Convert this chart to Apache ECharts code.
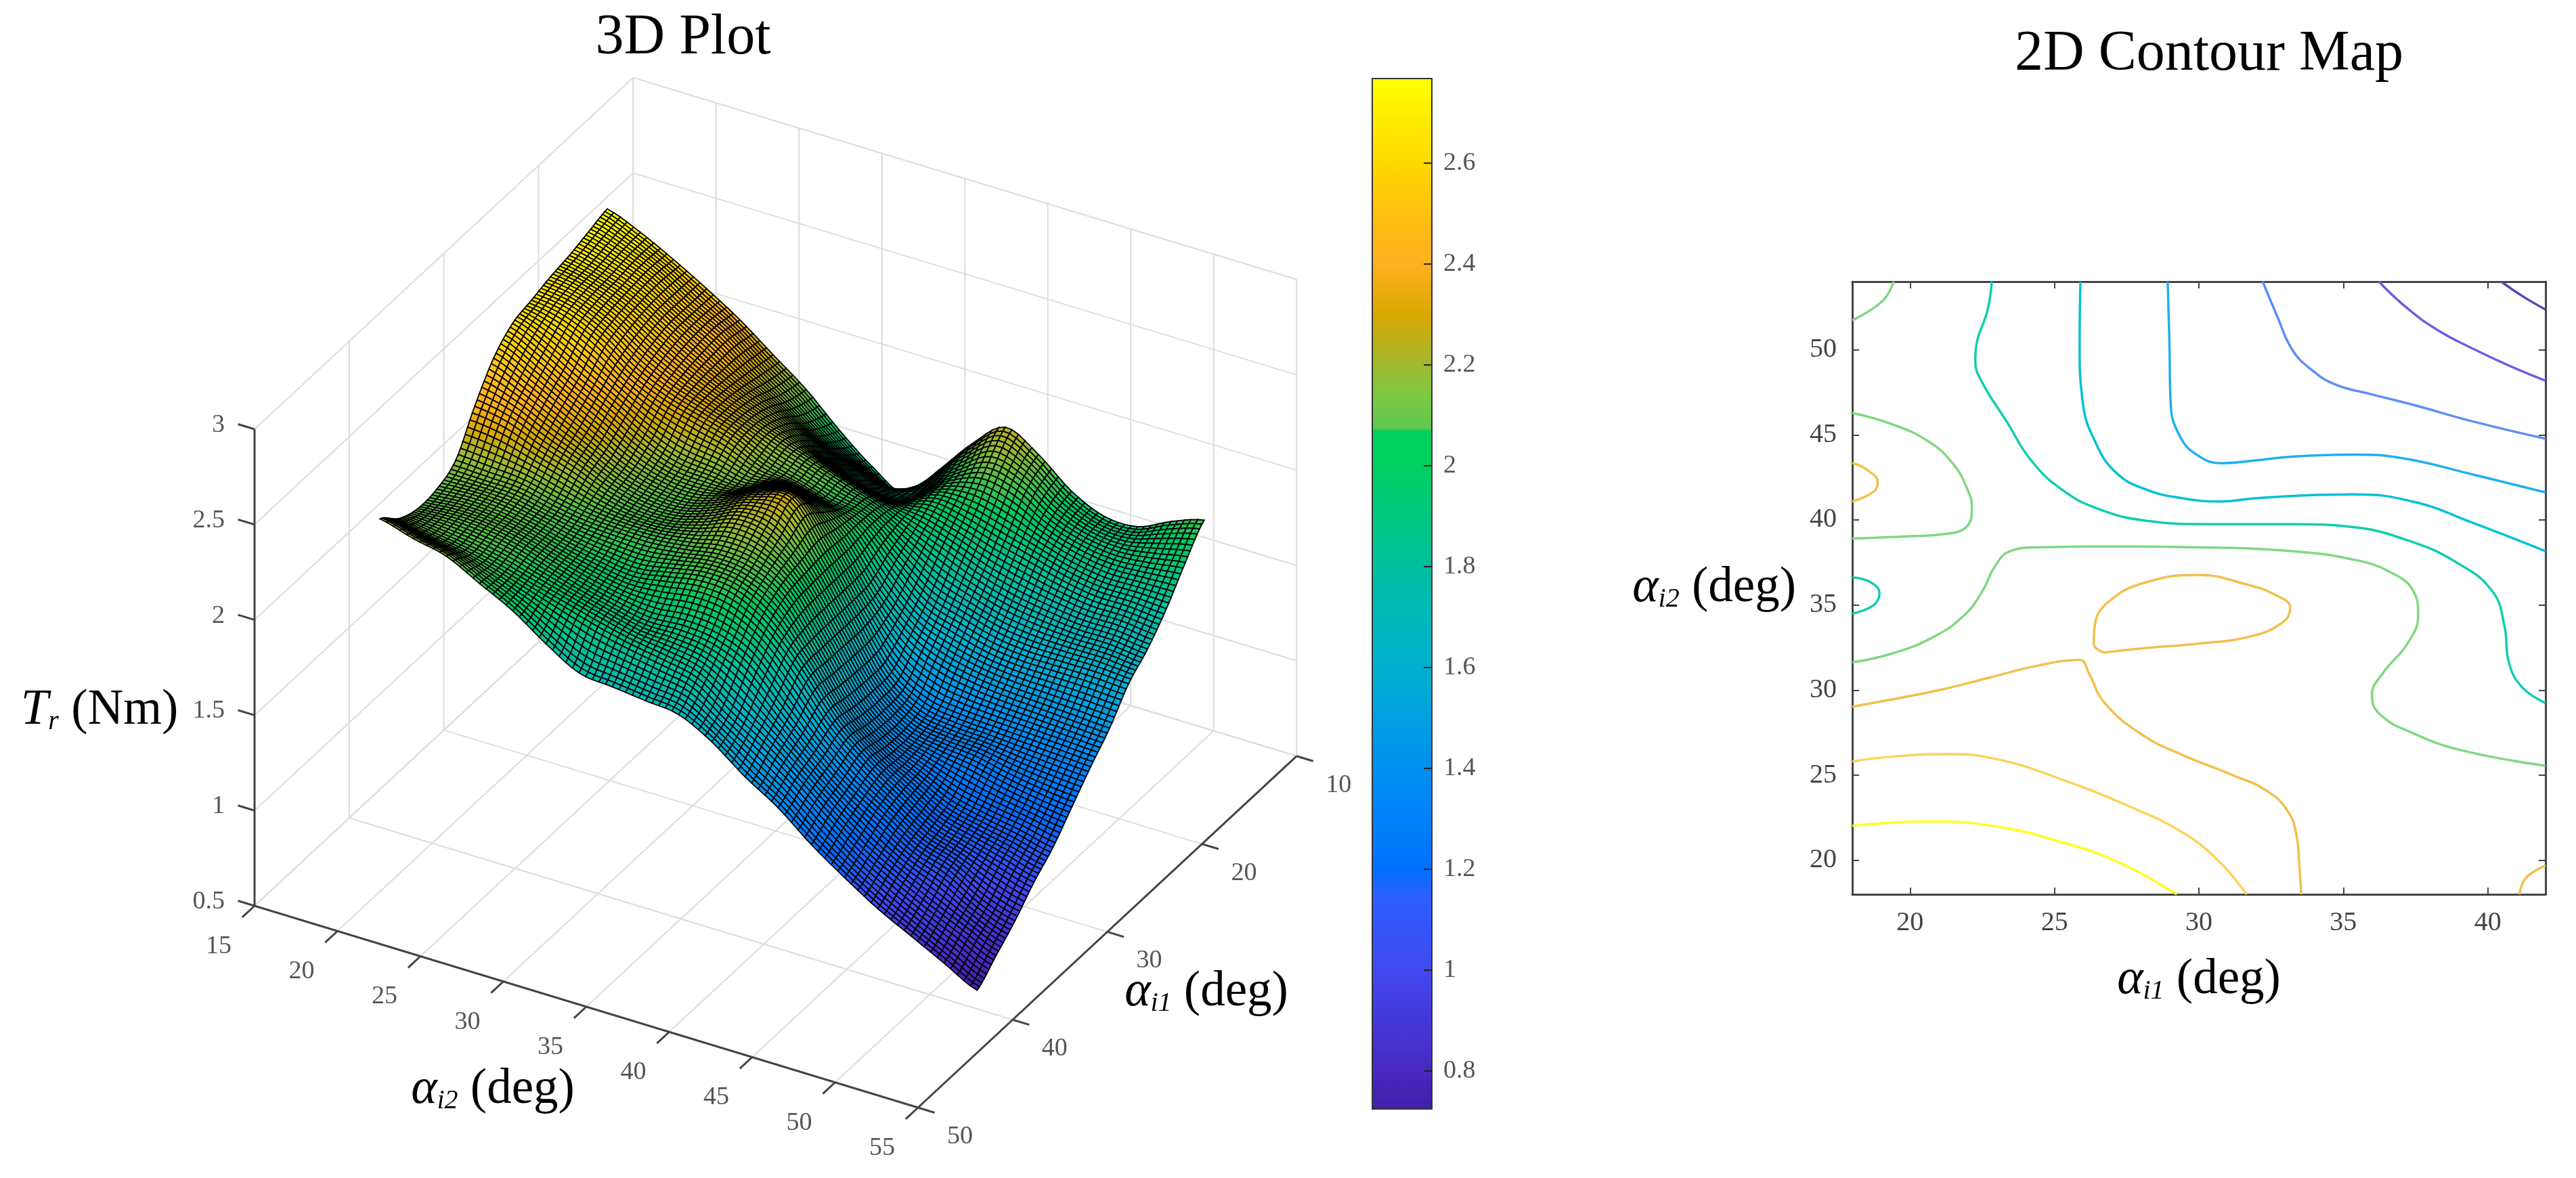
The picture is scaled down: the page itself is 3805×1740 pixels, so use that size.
<!DOCTYPE html>
<html>
<head>
<meta charset="utf-8">
<title>3D Plot and 2D Contour Map</title>
<script src="https://cdn.jsdelivr.net/npm/echarts@6/dist/echarts.min.js"></script>
<style>
html, body { margin: 0; padding: 0; background: #fff; }
#chart { width: 3805px; height: 1740px; }
</style>
</head>
<body>
<div id="chart"></div>
<script>
// surface values, Tr (Nm), one row per ai2 and one column per ai1
var surfaceI1 = [18, 20, 22, 24, 26, 28, 30, 32, 34, 36, 38, 40, 42];
var surfaceI2 = [18, 20, 22, 24, 26, 28, 30, 32, 34, 36, 38, 40, 42, 44, 46, 48, 50, 52, 54];
var surfaceZ = [
	[2.76, 2.73, 2.70, 2.68, 2.65, 2.62, 2.53, 2.37, 2.18, 2.12, 2.11, 2.15, 2.24],
	[2.69, 2.68, 2.66, 2.65, 2.62, 2.54, 2.45, 2.34, 2.17, 2.13, 2.12, 2.12, 2.19],
	[2.60, 2.61, 2.60, 2.58, 2.54, 2.44, 2.36, 2.27, 2.16, 2.12, 2.11, 2.09, 2.15],
	[2.50, 2.50, 2.50, 2.47, 2.42, 2.35, 2.27, 2.21, 2.12, 2.09, 2.08, 2.05, 2.06],
	[2.39, 2.41, 2.40, 2.38, 2.34, 2.25, 2.18, 2.14, 2.09, 2.05, 2.03, 2.00, 1.97],
	[2.26, 2.28, 2.30, 2.31, 2.29, 2.18, 2.13, 2.10, 2.08, 2.02, 1.98, 1.95, 1.85],
	[2.13, 2.16, 2.22, 2.25, 2.24, 2.16, 2.12, 2.10, 2.08, 2.00, 1.94, 1.90, 1.75],
	[1.97, 2.03, 2.13, 2.19, 2.16, 2.14, 2.17, 2.15, 2.10, 2.03, 1.91, 1.86, 1.73],
	[1.83, 1.93, 2.03, 2.13, 2.12, 2.20, 2.25, 2.22, 2.13, 2.06, 1.92, 1.83, 1.71],
	[1.74, 1.87, 1.95, 2.07, 2.07, 2.17, 2.27, 2.19, 2.11, 2.04, 1.90, 1.79, 1.69],
	[1.92, 1.92, 1.94, 2.01, 2.03, 2.03, 2.04, 2.03, 2.01, 1.94, 1.82, 1.67, 1.60],
	[2.11, 2.04, 2.01, 1.94, 1.87, 1.79, 1.77, 1.77, 1.77, 1.76, 1.65, 1.56, 1.47],
	[2.25, 2.13, 1.99, 1.87, 1.73, 1.62, 1.52, 1.51, 1.52, 1.54, 1.48, 1.43, 1.36],
	[2.16, 2.09, 1.94, 1.80, 1.67, 1.54, 1.41, 1.37, 1.37, 1.39, 1.34, 1.29, 1.22],
	[2.02, 1.98, 1.89, 1.75, 1.62, 1.50, 1.38, 1.33, 1.29, 1.27, 1.23, 1.16, 1.10],
	[1.94, 1.92, 1.84, 1.72, 1.60, 1.48, 1.37, 1.31, 1.21, 1.16, 1.12, 1.06, 0.99],
	[1.94, 1.90, 1.81, 1.70, 1.60, 1.47, 1.36, 1.27, 1.17, 1.11, 1.06, 0.97, 0.90],
	[2.02, 1.92, 1.81, 1.70, 1.60, 1.46, 1.35, 1.24, 1.14, 1.06, 0.96, 0.89, 0.81],
	[2.08, 1.95, 1.80, 1.68, 1.59, 1.45, 1.34, 1.22, 1.10, 1.01, 0.90, 0.81, 0.72]
];

// tick labels
var ticksZ = [0.5, 1, 1.5, 2, 2.5, 3];
var ticksI2 = [15, 20, 25, 30, 35, 40, 45, 50, 55];
var ticksI1 = [10, 20, 30, 40, 50];
var ticksBar = [0.8, 1, 1.2, 1.4, 1.6, 1.8, 2, 2.2, 2.4, 2.6];
var ticksMapX = [20, 25, 30, 35, 40];
var ticksMapY = [20, 25, 30, 35, 40, 45, 50];

// colour bar, value and colour side by side
var barValues = [0.725, 0.8, 1.0, 1.15, 1.2, 1.4, 1.6, 1.8, 2.0, 2.07, 2.075, 2.15, 2.2, 2.3, 2.4, 2.5, 2.6, 2.768];
var barColors = ['#4020a8', '#4828c0', '#4048f0', '#2c60ff', '#0070ff', '#0090f0', '#00b0d0', '#00bfa0', '#00d060', '#00d060', '#60c850', '#80c840', '#a0b830', '#d8a800', '#ffb020', '#ffc010', '#ffd800', '#ffff00'];

// the surface does not show the jump the bar has near 2.07
var shadeValues = [0.725, 0.8, 1.0, 1.2, 1.4, 1.6, 1.8, 2.0, 2.2, 2.3, 2.4, 2.6, 2.768];
var shadeColors = ['#4020a8', '#4828c0', '#4048f0', '#0070ff', '#0090f0', '#00b0d0', '#00bfa0', '#00c860', '#a0b830', '#d8a800', '#ffb020', '#ffd800', '#ffff00'];

// contour lines, [ai1, ai2]
var lineA = [[40.47, 54], [41.2, 53.15], [42, 52.36]];
var lineB = [[36.23, 54], [37.21, 52.44], [38.26, 51.16], [39.52, 50.03], [40.78, 49.03], [42, 48.18]];
var lineC = [[32.21, 54], [32.7, 52.01], [33.22, 50.03], [33.85, 48.89], [34.69, 47.98], [35.95, 47.39], [37.42, 46.76], [39.52, 45.77], [42, 44.77]];
var lineD = [[28.92, 54], [28.98, 50.31], [29.02, 46.9], [29.34, 44.92], [29.97, 43.78], [30.81, 43.33], [31.96, 43.5], [33.22, 43.72], [35.32, 43.84], [37, 43.64], [39.52, 42.65], [42, 41.62]];
var lineE = [[25.9, 54], [25.87, 50.31], [25.98, 46.9], [26.4, 44.63], [27.13, 42.78], [28.18, 41.78], [29.44, 41.27], [30.7, 41.08], [31.96, 41.27], [33.64, 41.44], [35.32, 41.5], [37.42, 41.07], [39.52, 39.8], [42, 38.16]];
var lineF = [[22.83, 54], [22.68, 52.3], [22.3, 50.31], [22.26, 49.32], [22.51, 48.04], [23.35, 45.77], [24.19, 43.5], [25.24, 41.8], [26.5, 40.66], [28.18, 39.95], [30.28, 39.75], [33.22, 39.75], [35.32, 39.58], [37.21, 38.81], [38.89, 37.53], [40.15, 35.83], [40.57, 33.84], [40.74, 31.57], [41.2, 30.15], [42, 29.24]];
var lineF2 = [[18, 36.63], [18.63, 36.34], [18.94, 35.69], [18.73, 34.98], [18, 34.5]];
var lineG1 = [[19.43, 54], [19.05, 52.87], [18, 51.73]];
var lineG2 = [[18, 46.28], [19.36, 45.63], [20.62, 44.63], [21.46, 43.35], [21.99, 41.79], [22.14, 40.66], [21.99, 39.66], [21.25, 39.18], [19.99, 39.04], [18, 38.9]];
var lineG3 = [[18, 31.63], [19.36, 32.14], [20.83, 33.14], [21.88, 34.41], [22.51, 35.83], [22.93, 37.25], [23.46, 38.16], [24.4, 38.39], [26.92, 38.44], [30.07, 38.39], [33.22, 38.16], [35.32, 37.68], [36.58, 36.97], [37.42, 35.83], [37.59, 34.41], [37.21, 32.71], [36.37, 31], [35.99, 29.73], [36.26, 28.59], [37.42, 27.46], [39.1, 26.46], [42, 25.55]];
var lineH1 = [[18, 43.35], [18.52, 42.93], [18.88, 42.22], [18.73, 41.65], [18, 41.08]];
var lineH2 = [[26.71, 32.2], [26.36, 32.71], [26.4, 33.84], [26.92, 35.26], [28.18, 36.34], [29.97, 36.77], [31.54, 36.26], [32.7, 35.55], [33.16, 34.84], [32.91, 33.99], [31.75, 33.14], [29.86, 32.71], [28.18, 32.48], [26.71, 32.2]];
var lineH3 = [[18, 29.02], [19.36, 29.45], [21.04, 30.01], [22.72, 30.72], [24.4, 31.43], [25.87, 31.77], [26.19, 31], [26.71, 29.3], [27.97, 27.45], [29.44, 26.18], [31.12, 25.04], [32.38, 24.05], [33.12, 22.77], [33.39, 21.35], [33.47, 19.93], [33.54, 18]];
var lineH4 = [[41.1, 18], [41.31, 18.94], [42, 19.7]];
var lineI = [[18, 25.81], [19.57, 26.12], [21.46, 26.23], [23.14, 25.89], [25.24, 24.76], [27.55, 23.2], [29.44, 21.63], [30.7, 19.93], [31.65, 18]];
var lineJ = [[18, 22.03], [20.62, 22.29], [22.72, 22.06], [25.24, 21.07], [27.34, 19.79], [29.23, 18]];

var serif = 'Liberation Serif';
var gridColor = '#dcdcdc';
var axisColor = '#444';
var tickColor = '#555';

// oblique view of the 3D box, worked out from its corners in the picture
function project(i2, i1, z) {
	return [
		376 + (i2 - 15) * 24.5 + (50 - i1) * 13.98,
		1338 + (i2 - 15) * 7.45 - (50 - i1) * 12.98 - (z - 0.5) * 281.6
	];
}

function hexRgb(h) {
	return [parseInt(h.substr(1, 2), 16), parseInt(h.substr(3, 2), 16), parseInt(h.substr(5, 2), 16)];
}

// colour of a height on the surface
function colorAt(z) {
	var n = shadeValues.length, k = 0;
	if (z <= shadeValues[0]) return shadeColors[0];
	if (z >= shadeValues[n - 1]) return shadeColors[n - 1];
	while (shadeValues[k + 1] < z) k++;
	var t = (z - shadeValues[k]) / (shadeValues[k + 1] - shadeValues[k]);
	var a = hexRgb(shadeColors[k]), b = hexRgb(shadeColors[k + 1]);
	return 'rgb(' + Math.round(a[0] + (b[0] - a[0]) * t) + ',' + Math.round(a[1] + (b[1] - a[1]) * t) + ',' + Math.round(a[2] + (b[2] - a[2]) * t) + ')';
}

// one item per cell between the read values, back of the box first
var surfaceCells = [];
for (var r = 0; r < surfaceI2.length - 1; r++) {
	for (var c = 0; c < surfaceI1.length - 1; c++) {
		surfaceCells.push([r, c]);
	}
}

// each cell is shaded as a fine black wire mesh, like the original surf plot
var MESH_I2 = 5, MESH_I1 = 8;

function cubicWeights(t) {
	return [
		(-t * t * t + 2 * t * t - t) / 2,
		(3 * t * t * t - 5 * t * t + 2) / 2,
		(-3 * t * t * t + 4 * t * t + t) / 2,
		(t * t * t - t * t) / 2
	];
}

// curved patch through the read values, drawing only, nothing is stored
function patchZ(r, c, s, t) {
	var ws = cubicWeights(s), wt = cubicWeights(t), z = 0;
	for (var m = 0; m < 4; m++) {
		var rr = Math.min(surfaceI2.length - 1, Math.max(0, r + m - 1));
		for (var n = 0; n < 4; n++) {
			var cc = Math.min(surfaceI1.length - 1, Math.max(0, c + n - 1));
			z += ws[m] * wt[n] * surfaceZ[rr][cc];
		}
	}
	return z;
}

function renderCell(params, api) {
	var r = api.value(0), c = api.value(1);
	var i2a = surfaceI2[r], i2b = surfaceI2[r + 1], i1a = surfaceI1[c], i1b = surfaceI1[c + 1];
	function corner(u, v) {
		var s = u / MESH_I2, t = v / MESH_I1;
		var z = patchZ(r, c, s, t);
		return { z: z, p: api.coord(project(i2a + (i2b - i2a) * s, i1a + (i1b - i1a) * t, z)) };
	}
	var children = [];
	for (var v = 0; v < MESH_I1; v++) {
		for (var u = 0; u < MESH_I2; u++) {
			var a = corner(u, v), b = corner(u + 1, v), d = corner(u + 1, v + 1), e = corner(u, v + 1);
			children.push({
				type: 'polygon',
				shape: { points: [a.p, b.p, d.p, e.p] },
				style: { fill: colorAt((a.z + b.z + d.z + e.z) / 4), stroke: '#000', lineWidth: 1.8 }
			});
		}
	}
	return { type: 'group', children: children };
}

// box lines: [i2 from, i1 from, z from, i2 to, i1 to, z to]
var wallSegments = [];
ticksZ.forEach(function (z) {
	wallSegments.push([15, 50, z, 15, 10, z]);
	wallSegments.push([15, 10, z, 55, 10, z]);
});
ticksI2.forEach(function (i2) {
	wallSegments.push([i2, 50, 0.5, i2, 10, 0.5]);
	wallSegments.push([i2, 10, 0.5, i2, 10, 3]);
});
ticksI1.forEach(function (i1) {
	wallSegments.push([15, i1, 0.5, 55, i1, 0.5]);
	wallSegments.push([15, i1, 0.5, 15, i1, 3]);
});

var axisSegments = [[15, 50, 0.5, 15, 50, 3], [15, 50, 0.5, 55, 50, 0.5], [55, 50, 0.5, 55, 10, 0.5]];
ticksZ.forEach(function (z) { axisSegments.push([15, 50, z, 14, 50, z]); });
ticksI2.forEach(function (i2) { axisSegments.push([i2, 50, 0.5, i2, 51.3, 0.5]); });
ticksI1.forEach(function (i1) { axisSegments.push([55, i1, 0.5, 56, i1, 0.5]); });

function segmentRenderer(color, width) {
	return function (params, api) {
		var a = api.coord(project(api.value(0), api.value(1), api.value(2)));
		var b = api.coord(project(api.value(3), api.value(4), api.value(5)));
		return {
			type: 'line',
			shape: { x1: a[0], y1: a[1], x2: b[0], y2: b[1] },
			style: { stroke: color, lineWidth: width, fill: null }
		};
	};
}

// 3D tick labels: [i2, i1, z, text, dx, dy, align]
var boxLabels = [];
ticksZ.forEach(function (z) { boxLabels.push([15, 50, z, String(z), -44, -6, 'right']); });
ticksI2.forEach(function (i2) { boxLabels.push([i2, 50, 0.5, String(i2), -53, 60, 'center']); });
ticksI1.forEach(function (i1) { boxLabels.push([55, i1, 0.5, String(i1), 62, 43, 'center']); });

function renderBoxLabel(params, api) {
	var item = boxLabels[params.dataIndex];
	var p = api.coord(project(item[0], item[1], item[2]));
	return {
		type: 'text',
		style: {
			text: item[3], x: p[0] + item[4], y: p[1] + item[5],
			textAlign: item[6], textVerticalAlign: 'middle',
			font: '38px "' + serif + '"', fill: tickColor
		}
	};
}

var nameRich = {
	a: { fontFamily: serif, fontStyle: 'italic', fontSize: 73, color: '#000' },
	s: { fontFamily: serif, fontStyle: 'italic', fontSize: 40, color: '#000', verticalAlign: 'bottom', padding: [26, 0, 0, 0] },
	d: { fontFamily: serif, fontSize: 73, color: '#000' }
};

// free axis titles of the 3D box: [x on page, y on page, rich text]
var boxNames = [
	[147, 1050, '{a|T}{s|r}{d| (Nm)}'],
	[728, 1610, '{a|α}{s|i2}{d| (deg)}'],
	[1782, 1466, '{a|α}{s|i1}{d| (deg)}']
];

function renderBoxName(params, api) {
	var item = boxNames[params.dataIndex];
	var p = api.coord([item[0], item[1]]);
	return {
		type: 'text',
		style: { text: item[2], x: p[0], y: p[1], textAlign: 'center', textVerticalAlign: 'middle', rich: nameRich }
	};
}

function renderBarBand(params, api) {
	var k = api.value(0);
	var a = api.coord([0, barValues[k]]), b = api.coord([1, barValues[k + 1]]);
	return {
		type: 'rect',
		shape: { x: a[0], y: b[1], width: b[0] - a[0], height: a[1] - b[1] + 1 },
		style: {
			fill: new echarts.graphic.LinearGradient(0, 1, 0, 0, [
				{ offset: 0, color: barColors[k] },
				{ offset: 1, color: barColors[k + 1] }
			])
		}
	};
}

var barBands = barValues.slice(1).map(function (v, k) { return [k]; });

function contourSeries(points, color) {
	return {
		type: 'line', xAxisIndex: 2, yAxisIndex: 2, data: points,
		smooth: 0.45, showSymbol: false, symbol: 'none', silent: true, clip: true, z: 3,
		lineStyle: { color: color, width: 3.5 }
	};
}

function customSeries(data, renderItem, z) {
	return {
		type: 'custom', coordinateSystem: 'cartesian2d', xAxisIndex: 0, yAxisIndex: 0,
		data: data, renderItem: renderItem, silent: true, clip: false, z: z, progressive: 0
	};
}

var mapTick = { show: true, inside: true, length: 10, lineStyle: { color: axisColor, width: 2 } };
var mapLine = { show: true, lineStyle: { color: axisColor, width: 3 } };
var mapLabel = { fontFamily: 'Liberation Sans Narrow', fontSize: 40, color: axisColor };

var myChart = echarts.init(document.getElementById('chart'));
myChart.setOption({
	animation: false,
	backgroundColor: '#fff',
	title: [
		{ text: '3D Plot', left: 1004, top: 10, textAlign: 'center', textStyle: { fontFamily: serif, fontSize: 84, fontWeight: 'normal', color: '#000' } },
		{ text: '2D Contour Map', left: 3258, top: 34, textAlign: 'center', textStyle: { fontFamily: serif, fontSize: 84, fontWeight: 'normal', color: '#000' } }
	],
	grid: [
		{ left: 0, top: 0, width: 3805, height: 1740, show: false },
		{ left: 2027, top: 116, width: 88, height: 1522, show: true, borderColor: '#333', borderWidth: 2, z: 5 },
		{ left: 2736, top: 416, width: 1024, height: 905, show: false }
	],
	xAxis: [
		{ gridIndex: 0, type: 'value', min: 0, max: 3805, show: false },
		{ gridIndex: 1, type: 'value', min: 0, max: 1, show: false },
		{
			gridIndex: 2, type: 'value', min: 18, max: 42, position: 'bottom', splitLine: { show: false },
			axisLine: mapLine, axisTick: Object.assign({ customValues: ticksMapX }, mapTick),
			axisLabel: Object.assign({ customValues: ticksMapX, margin: 22 }, mapLabel),
			name: '{a|α}{s|i1}{d| (deg)}', nameLocation: 'middle', nameGap: 90, nameTextStyle: { rich: nameRich }
		},
		{
			gridIndex: 2, type: 'value', min: 18, max: 42, position: 'top', splitLine: { show: false },
			axisLine: mapLine, axisTick: Object.assign({ customValues: ticksMapX }, mapTick), axisLabel: { show: false }
		}
	],
	yAxis: [
		{ gridIndex: 0, type: 'value', min: 0, max: 1740, inverse: true, show: false },
		{
			gridIndex: 1, type: 'value', min: 0.725, max: 2.768, position: 'right', splitLine: { show: false }, z: 6,
			axisLine: { show: false, onZero: false },
			axisTick: { customValues: ticksBar, inside: true, length: 12, lineStyle: { color: '#222', width: 2 } },
			axisLabel: { customValues: ticksBar, margin: 17, align: 'left', fontFamily: serif, fontSize: 38, color: tickColor, formatter: function (v) { return String(v); } }
		},
		{
			gridIndex: 2, type: 'value', min: 18, max: 54, position: 'left', splitLine: { show: false },
			axisLine: mapLine, axisTick: Object.assign({ customValues: ticksMapY }, mapTick),
			axisLabel: Object.assign({ customValues: ticksMapY, margin: 23 }, mapLabel),
			name: '{a|α}{s|i2}{d| (deg)}', nameLocation: 'middle', nameRotate: 0, nameGap: 83, nameTextStyle: { rich: nameRich }
		},
		{
			gridIndex: 2, type: 'value', min: 18, max: 54, position: 'right', splitLine: { show: false },
			axisLine: mapLine, axisTick: Object.assign({ customValues: ticksMapY }, mapTick), axisLabel: { show: false }
		}
	],
	series: [
		customSeries(wallSegments, segmentRenderer(gridColor, 2), 1),
		customSeries(surfaceCells, renderCell, 2),
		customSeries(axisSegments, segmentRenderer(axisColor, 3), 3),
		customSeries(boxLabels.map(function (d, k) { return [k]; }), renderBoxLabel, 3),
		customSeries(boxNames.map(function (d, k) { return [k]; }), renderBoxName, 3),
		{
			type: 'custom', coordinateSystem: 'cartesian2d', xAxisIndex: 1, yAxisIndex: 1,
			data: barBands, renderItem: renderBarBand, silent: true, clip: false, z: 1, progressive: 0
		},
		contourSeries(lineA, '#5a45b5'),
		contourSeries(lineB, '#6b5fe0'),
		contourSeries(lineC, '#5f8ff5'),
		contourSeries(lineD, '#1fb0ee'),
		contourSeries(lineE, '#00c0d8'),
		contourSeries(lineF, '#10cdb0'),
		contourSeries(lineF2, '#10cdb0'),
		contourSeries(lineG1, '#80d880'),
		contourSeries(lineG2, '#80d880'),
		contourSeries(lineG3, '#80d880'),
		contourSeries(lineH1, '#f0c04a'),
		contourSeries(lineH2, '#f0c04a'),
		contourSeries(lineH3, '#f0c04a'),
		contourSeries(lineH4, '#f0c04a'),
		contourSeries(lineI, '#fdd257'),
		contourSeries(lineJ, '#ffff20')
	]
});
</script>
</body>
</html>
